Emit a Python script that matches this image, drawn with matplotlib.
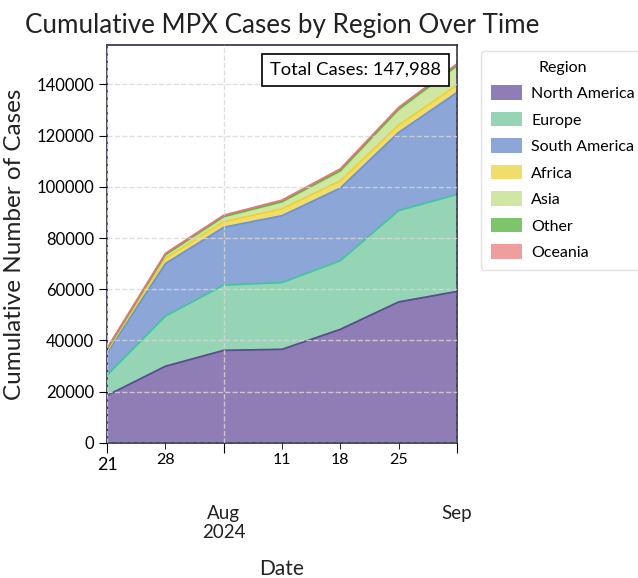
import pandas as pd
import matplotlib
matplotlib.use('Agg')
import matplotlib.pyplot as plt
import matplotlib.transforms as mtransforms

plt.rcParams['font.family'] = ['Lato', 'DejaVu Sans']

dates = pd.date_range('2024-07-21', periods=7, freq='W')
regions = ['North America', 'Europe', 'South America', 'Africa', 'Asia', 'Other', 'Oceania']
north_america = [18500, 29900, 36100, 36500, 44300, 55000, 59100]
europe = [8000, 19600, 25500, 26100, 26800, 35700, 37900]
south_america = [8700, 20500, 22600, 26100, 28400, 30500, 39800]
africa = [800, 2100, 2200, 2700, 2800, 2900, 2900]
asia = [500, 1100, 1700, 2500, 3500, 5600, 7200]
other = [100, 300, 300, 300, 500, 600, 400]
oceania = [400, 500, 500, 600, 700, 700, 688]
series = [north_america, europe, south_america, africa, asia, other, oceania]

fill_colors = ['#8f7db6', '#96d4b6', '#8ba6d7', '#f1dd6c', '#d0e7a3', '#7dc56b', '#ef9e9e']
line_colors = ['#5b4b8f', '#45c49f', '#6f93d4', '#ecd332', '#c3e28a', '#5cb548', '#e47676']

fig = plt.figure(figsize=(6.38, 5.78), dpi=100)
ax = fig.add_axes([0.168, 0.234, 0.548, 0.688])

ax.stackplot(dates, *series, labels=regions, colors=fill_colors)
cum = [0] * len(dates)
for vals, lc in zip(series, line_colors):
    cum = [a + b for a, b in zip(cum, vals)]
    ax.plot(dates, cum, color=lc, linewidth=1.3)

total = sum(s[-1] for s in series)
ax.set_xlim(dates[0], dates[-1])
ax.set_ylim(0, total * 1.05)

major = [dates[0], dates[2], dates[-1]]
minor = [dates[1], dates[3], dates[4], dates[5]]
ax.set_xticks(major)
ax.set_xticklabels(['21', '', ''])
ax.set_xticks(minor, minor=True)
ax.set_xticklabels([d.strftime('%-d') for d in minor], minor=True)
ax.tick_params(axis='x', which='major', length=7, labelsize=13)
ax.tick_params(axis='x', which='minor', length=4, labelsize=11.5)
ax.tick_params(axis='y', length=6, labelsize=12)

trans = mtransforms.blended_transform_factory(ax.transData, ax.transAxes)
ax.text(dates[2], -0.157, 'Aug\n2024', transform=trans, ha='center', va='top',
        fontsize=13.5, color='#222222', linespacing=1.1)
ax.text(dates[-1], -0.157, 'Sep', transform=trans, ha='center', va='top',
        fontsize=13.5, color='#222222')

ax.grid(True, which='major', linestyle='--', color='#d8d8d8', linewidth=1, alpha=0.8)
ax.set_axisbelow(False)
for sp in ax.spines.values():
    sp.set_color('#2b2b45')
    sp.set_linewidth(1.2)

ax.set_title('Cumulative MPX Cases by Region Over Time', fontsize=18.7, loc='left',
             x=-0.235, pad=9, color='#222222')
ax.set_ylabel('Cumulative Number of Cases', fontsize=17.5, color='#222222', labelpad=8)
ax.set_xlabel('Date', fontsize=15, labelpad=62, color='#222222')

ax.text(0.955, 0.958, f'Total Cases: {total:,}', transform=ax.transAxes, ha='right', va='top',
        fontsize=13.2, bbox=dict(boxstyle='square,pad=0.45', facecolor='white', edgecolor='black', linewidth=1.2))

leg = ax.legend(title='Region', loc='upper left', bbox_to_anchor=(1.069, 0.985), borderaxespad=0,
                fontsize=11.5, title_fontsize=11.5, frameon=True, handlelength=2.0, handleheight=1.0,
                handletextpad=0.55, labelspacing=0.68, borderpad=0.6)
leg.get_frame().set_edgecolor('#dddddd')

fig.savefig('out.png', dpi=100)
